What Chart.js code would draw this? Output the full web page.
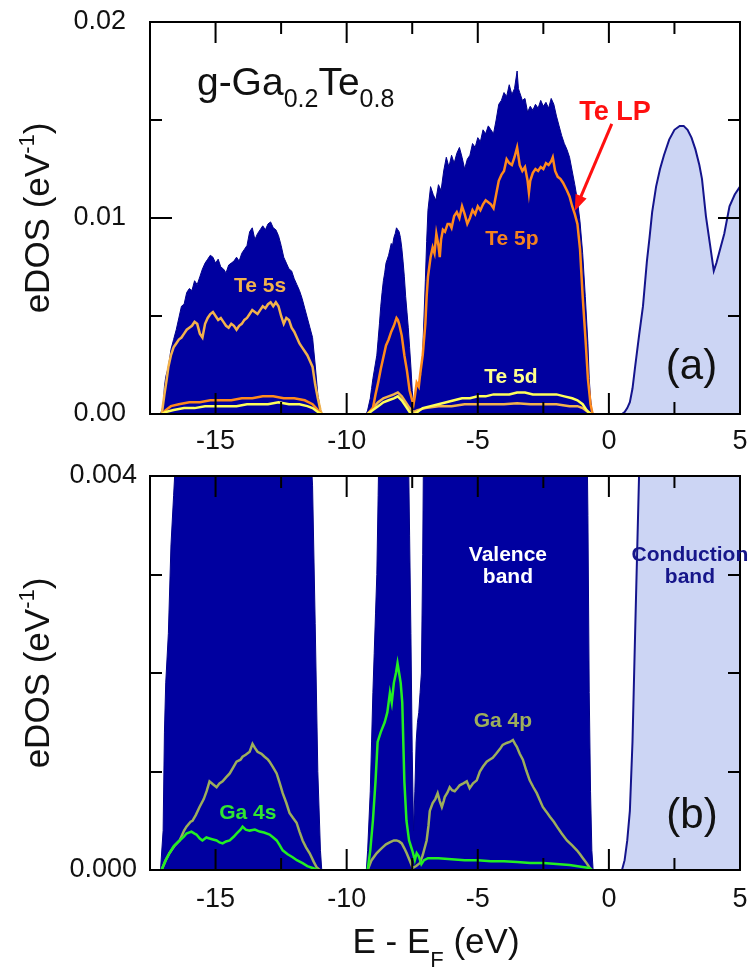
<!DOCTYPE html>
<html>
<head>
<meta charset="utf-8">
<title>g-Ga0.2Te0.8 eDOS</title>
<script src="https://cdn.jsdelivr.net/npm/chart.js@4.4.1/dist/chart.umd.min.js"></script>
<style>
  html, body { margin: 0; padding: 0; background: #fff; }
  #wrap { position: relative; width: 752px; height: 972px; overflow: hidden; }
  #wrap canvas { position: absolute; left: 0; }
  #DosTop { top: 0; }
  #DosBottom { top: 440px; }
</style>
</head>
<body>
<div id="wrap">
  <canvas id="DosTop" width="752" height="470"></canvas>
  <canvas id="DosBottom" width="752" height="532"></canvas>
</div>
<script>
// ---------------------------------------------------------------
//  Data (energy in eV relative to E_F, eDOS in 1/eV)
//  null marks a gap between bands
// ---------------------------------------------------------------

// total DOS, valence side
const totalE = [
  -17.10, -17.00, -16.95, -16.90, -16.80, -16.70, -16.60, -16.50, -16.40, -16.30,
  -16.20, -16.10, -16.00, -15.90, -15.80, -15.70, -15.60, -15.50, -15.40, -15.30,
  -15.20, -15.10, -15.00, -14.90, -14.80, -14.70, -14.60, -14.50, -14.40, -14.30,
  -14.20, -14.10, -14.00, -13.90, -13.80, -13.70, -13.60, -13.50, -13.40, -13.30,
  -13.20, -13.10, -13.00, -12.90, -12.80, -12.70, -12.60, -12.50, -12.40, -12.30,
  -12.20, -12.10, -12.00, -11.90, -11.80, -11.70, -11.60, -11.50, -11.40, -11.30,
  -11.20, -11.10, -11.00, -10.95,
  -10.00,
  -9.25, -9.20, -9.10, -9.05, -9.00, -8.95, -8.90, -8.85, -8.80, -8.75,
  -8.70, -8.65, -8.60, -8.55, -8.50, -8.45, -8.40, -8.35, -8.30, -8.25,
  -8.20, -8.15, -8.10, -8.05, -8.00, -7.95, -7.90, -7.85, -7.80, -7.75,
  -7.70, -7.65, -7.60, -7.55, -7.50, -7.45, -7.40, -7.35, -7.30, -7.25,
  -7.20, -7.15, -7.10, -7.05, -7.00, -6.95, -6.90, -6.80, -6.70, -6.60,
  -6.50, -6.40, -6.30, -6.20, -6.10, -6.00, -5.90, -5.80, -5.70, -5.60,
  -5.50, -5.40, -5.30, -5.20, -5.10, -5.00, -4.90, -4.80, -4.70, -4.60,
  -4.50, -4.40, -4.30, -4.20, -4.10, -4.00, -3.90, -3.80, -3.70, -3.60,
  -3.50, -3.45, -3.40, -3.30, -3.20, -3.10, -3.00, -2.90, -2.80, -2.70,
  -2.60, -2.50, -2.40, -2.30, -2.20, -2.10, -2.00, -1.90, -1.80, -1.70,
  -1.60, -1.50, -1.40, -1.30, -1.20, -1.10, -1.00, -0.90, -0.80, -0.75,
  -0.70, -0.65, -0.60
];
const totalD = [
  0, 0.0004, 0.0014, 0.0019, 0.0024, 0.0033, 0.0038, 0.0043, 0.0049, 0.0055,
  0.0056, 0.0062, 0.0064, 0.0063, 0.0068, 0.0066, 0.0070, 0.0074, 0.0077, 0.0079,
  0.0081, 0.0080, 0.0077, 0.0079, 0.0075, 0.0074, 0.0072, 0.0076, 0.0077, 0.0078,
  0.0080, 0.0078, 0.0082, 0.0084, 0.0086, 0.0093, 0.0095, 0.0089, 0.0092, 0.0094,
  0.0096, 0.0094, 0.0097, 0.0098, 0.0095, 0.0094, 0.0091, 0.0086, 0.0080, 0.0077,
  0.0074, 0.0073, 0.0069, 0.0066, 0.0063, 0.0059, 0.0054, 0.0049, 0.0044, 0.0039,
  0.0025, 0.0010, 0.0002, 0,
  null,
  0, 0.0002, 0.0008, 0.0013, 0.0018, 0.0022, 0.0026, 0.0030, 0.0038, 0.0046,
  0.0055, 0.0062, 0.0068, 0.0072, 0.0077, 0.0079, 0.0081, 0.0084, 0.0087, 0.0086,
  0.0090, 0.0092, 0.0095, 0.0094, 0.0093, 0.0090, 0.0085, 0.0078, 0.0070, 0.0060,
  0.0052, 0.0044, 0.0034, 0.0024, 0.0012, 0.0004, 0.0008, 0.0013, 0.0015, 0.0016,
  0.0018, 0.0020, 0.0032, 0.0050, 0.0068, 0.0088, 0.0104, 0.0116, 0.0112, 0.0109,
  0.0117, 0.0114, 0.0124, 0.0131, 0.0126, 0.0132, 0.0128, 0.0133, 0.0136, 0.0131,
  0.0125, 0.0130, 0.0132, 0.0138, 0.0136, 0.0141, 0.0139, 0.0145, 0.0143, 0.0147,
  0.0145, 0.0143, 0.0150, 0.0158, 0.0160, 0.0164, 0.0162, 0.0168, 0.0163, 0.0166,
  0.0175, 0.0166, 0.0164, 0.0160, 0.0161, 0.0154, 0.0157, 0.0155, 0.0158, 0.0156,
  0.0160, 0.0157, 0.0159, 0.0156, 0.0161, 0.0158, 0.0152, 0.0147, 0.0142, 0.0138,
  0.0135, 0.0131, 0.0124, 0.0117, 0.0109, 0.0098, 0.0082, 0.0060, 0.0036, 0.0018,
  0.0008, 0.0002, 0
];

// conduction band
const cbE = [
  0.50, 0.60, 0.70, 0.80, 0.90, 1.00, 1.15, 1.30, 1.45, 1.55,
  1.65, 1.80, 1.95, 2.10, 2.30, 2.50, 2.70, 2.85, 3.00, 3.15,
  3.30, 3.45, 3.55, 3.70, 3.85, 4.00, 4.10, 4.20, 4.40, 4.60,
  4.80, 5.00
];
const cbD = [
  0, 0.0001, 0.0003, 0.0006, 0.0013, 0.0024, 0.0040, 0.0055, 0.0078, 0.0090,
  0.0103, 0.0116, 0.0125, 0.0132, 0.0140, 0.0145, 0.0147, 0.0147, 0.0145, 0.0141,
  0.0135, 0.0127, 0.0120, 0.0101, 0.0087, 0.0073, 0.0077, 0.0082, 0.0092, 0.0106,
  0.0112, 0.0116
];

// Te 5s
const te5sE = [
  -17.05, -16.95, -16.87, -16.80, -16.70, -16.60, -16.50, -16.40, -16.30, -16.20,
  -16.10, -16.00, -15.90, -15.80, -15.70, -15.60, -15.50, -15.40, -15.30, -15.20,
  -15.10, -15.00, -14.90, -14.80, -14.70, -14.60, -14.50, -14.40, -14.30, -14.20,
  -14.10, -14.00, -13.90, -13.80, -13.70, -13.60, -13.50, -13.40, -13.30, -13.20,
  -13.10, -13.00, -12.90, -12.80, -12.70, -12.60, -12.50, -12.40, -12.30, -12.20,
  -12.10, -12.00, -11.90, -11.80, -11.70, -11.60, -11.50, -11.40, -11.30, -11.20,
  -11.10, -11.00, -10.95, -10.00,
  -9.20, -9.00, -8.80, -8.60, -8.40, -8.20, -8.05, -7.90, -7.75, -7.60,
  -7.45, -7.30, -7.00, -6.50, -6.00, -5.50, -5.00, -4.50, -4.00, -3.50,
  -3.00, -2.50, -2.00, -1.50, -1.20, -1.00, -0.80, -0.65
];
const te5sD = [
  0, 0.0010, 0.0017, 0.0024, 0.0030, 0.0034, 0.0036, 0.0038, 0.0039, 0.0041,
  0.0043, 0.0044, 0.0045, 0.0047, 0.0046, 0.0041, 0.0039, 0.0046, 0.0049, 0.0051,
  0.0052, 0.0050, 0.0048, 0.0049, 0.0047, 0.0045, 0.0044, 0.0046, 0.0045, 0.0043,
  0.0045, 0.0046, 0.0048, 0.0049, 0.0051, 0.0053, 0.0052, 0.0051, 0.0053, 0.0055,
  0.0054, 0.0056, 0.0057, 0.0055, 0.0057, 0.0055, 0.0050, 0.0046, 0.0049, 0.0048,
  0.0044, 0.0042, 0.0039, 0.0036, 0.0034, 0.0032, 0.0030, 0.0027, 0.0024, 0.0015,
  0.0008, 0.0002, 0, null,
  0, 0.0003, 0.0006, 0.0008, 0.0009, 0.0010, 0.0011, 0.0009, 0.0006, 0.0003,
  0.0001, 0.0002, 0.0003, 0.0004, 0.0004, 0.0005, 0.0005, 0.0005, 0.0005, 0.00055,
  0.0005, 0.0005, 0.0005, 0.0004, 0.0004, 0.0003, 0.0001, 0
];

// Te 5p
const te5pE = [
  -17.05, -16.90, -16.70, -16.40, -16.00, -15.60, -15.20, -14.80, -14.40, -14.00,
  -13.60, -13.20, -12.80, -12.40, -12.00, -11.60, -11.30, -11.10, -10.95, -10.00,
  -9.20, -9.00, -8.90, -8.80, -8.70, -8.60, -8.50, -8.40, -8.30, -8.20,
  -8.10, -8.05, -8.00, -7.90, -7.80, -7.70, -7.60, -7.50, -7.45, -7.40,
  -7.33, -7.25, -7.20, -7.10, -7.00, -6.95, -6.90, -6.80, -6.72, -6.65,
  -6.58, -6.50, -6.45, -6.40, -6.33, -6.25, -6.15, -6.07, -6.00, -5.90,
  -5.80, -5.70, -5.60, -5.50, -5.40, -5.30, -5.20, -5.10, -5.00, -4.90,
  -4.80, -4.70, -4.60, -4.50, -4.40, -4.30, -4.20, -4.10, -4.00, -3.90,
  -3.80, -3.70, -3.60, -3.50, -3.40, -3.30, -3.20, -3.10, -3.05, -3.00,
  -2.90, -2.80, -2.70, -2.60, -2.50, -2.40, -2.30, -2.20, -2.14, -2.05,
  -1.95, -1.85, -1.75, -1.60, -1.50, -1.40, -1.30, -1.20, -1.10, -1.00,
  -0.90, -0.80, -0.70, -0.62
];
const te5pD = [
  0, 0.0002, 0.0004, 0.0005, 0.0006, 0.0006, 0.0007, 0.0007, 0.0007, 0.0008,
  0.0008, 0.0009, 0.0009, 0.0008, 0.0008, 0.0007, 0.0005, 0.0002, 0, null,
  0, 0.0003, 0.0010, 0.0016, 0.0023, 0.0029, 0.0035, 0.0038, 0.0042, 0.0045,
  0.0049, 0.0048, 0.0046, 0.0040, 0.0030, 0.0022, 0.0012, 0.0007, 0.0005, 0.0009,
  0.0016, 0.0014, 0.0020, 0.0030, 0.0046, 0.0060, 0.0070, 0.0080, 0.0085, 0.0082,
  0.0092, 0.0086, 0.0080, 0.0089, 0.0094, 0.0093, 0.0097, 0.0097, 0.0095, 0.0101,
  0.0103, 0.0100, 0.0106, 0.0102, 0.0097, 0.0100, 0.0104, 0.0102, 0.0106, 0.0104,
  0.0107, 0.0109, 0.0108, 0.0107, 0.0105, 0.0112, 0.0119, 0.0122, 0.0124, 0.0130,
  0.0128, 0.0127, 0.0131, 0.0136, 0.0127, 0.0124, 0.0126, 0.0119, 0.0113, 0.0119,
  0.0123, 0.0125, 0.0124, 0.0126, 0.0125, 0.0128, 0.0127, 0.0129, 0.0131, 0.0124,
  0.0121, 0.0120, 0.0118, 0.0114, 0.0111, 0.0106, 0.0102, 0.0097, 0.0084, 0.0060,
  0.0040, 0.0018, 0.0005, 0
];

// Te 5d
const te5dE = [
  -17.05, -16.90, -16.60, -16.20, -15.80, -15.40, -15.00, -14.60, -14.20, -13.80,
  -13.40, -13.00, -12.60, -12.20, -11.80, -11.50, -11.30, -11.10, -10.95, -10.00,
  -9.20, -9.00, -8.80, -8.60, -8.40, -8.20, -8.05, -7.90, -7.75, -7.60,
  -7.45, -7.30, -7.10, -6.80, -6.50, -6.20, -5.90, -5.60, -5.30, -5.00,
  -4.70, -4.40, -4.10, -3.80, -3.50, -3.20, -2.90, -2.60, -2.30, -2.00,
  -1.70, -1.40, -1.20, -1.00, -0.85, -0.70
];
const te5dD = [
  0, 0.0001, 0.0002, 0.0003, 0.0003, 0.0004, 0.0004, 0.0004, 0.0004, 0.0005,
  0.0005, 0.0005, 0.0006, 0.0005, 0.0005, 0.0004, 0.0003, 0.0001, 0, null,
  0, 0.0002, 0.0004, 0.0006, 0.0007, 0.0008, 0.0009, 0.0007, 0.0004, 0.0001,
  0, 0.0001, 0.0003, 0.0004, 0.0005, 0.0006, 0.0007, 0.0008, 0.0008, 0.0009,
  0.0009, 0.0010, 0.0010, 0.0010, 0.0011, 0.0011, 0.0010, 0.0010, 0.0010, 0.0010,
  0.0009, 0.0008, 0.0007, 0.0005, 0.0002, 0
];

// Ga 4s
const ga4sE = [
  -17.06, -16.90, -16.76, -16.60, -16.37, -16.20, -16.11, -15.92, -15.80, -15.73,
  -15.60, -15.50, -15.35, -15.23, -15.10, -14.96, -14.85, -14.73, -14.60, -14.46,
  -14.30, -14.20, -14.05, -13.97, -13.85, -13.70, -13.50, -13.32, -13.15, -12.94,
  -12.80, -12.67, -12.55, -12.44, -12.25, -12.06, -11.90, -11.68, -11.50, -11.30,
  -11.10, -10.00,
  -9.20, -9.10, -9.00, -8.90, -8.82, -8.70, -8.55, -8.45, -8.35, -8.28,
  -8.20, -8.12, -8.06, -8.00, -7.94, -7.88, -7.84, -7.80, -7.72, -7.62,
  -7.50, -7.40, -7.33, -7.25, -7.15, -7.05, -6.90, -6.50, -6.00, -5.50,
  -5.00, -4.50, -4.00, -3.50, -3.00, -2.50, -2.00, -1.50, -1.00, -0.75,
  -0.65
];
const ga4sD = [
  0, 0.00010, 0.00017, 0.00024, 0.00030, 0.00034, 0.00037, 0.00039, 0.00037, 0.00036,
  0.00032, 0.00030, 0.00033, 0.00032, 0.00031, 0.00030, 0.00028, 0.00027, 0.00029, 0.00030,
  0.00034, 0.00037, 0.00041, 0.00044, 0.00041, 0.00040, 0.00041, 0.00039, 0.00038, 0.00036,
  0.00033, 0.00030, 0.00025, 0.00020, 0.00016, 0.00013, 0.00010, 0.00007, 0.00004, 0.00002,
  0, null,
  0, 0.0002, 0.0005, 0.0009, 0.0013, 0.0014, 0.0015, 0.0016, 0.0018, 0.0017,
  0.0019, 0.0020, 0.0021, 0.0020, 0.0019, 0.0017, 0.0013, 0.0009, 0.0005, 0.0003,
  0.0002, 0.0001, 0.00017, 0.00014, 0.00006, 0.00010, 0.00012, 0.00012, 0.00011, 0.00010,
  0.00010, 0.00009, 0.00009, 0.00008, 0.00007, 0.00007, 0.00006, 0.00005, 0.00003, 0.00002,
  0
];

// Ga 4p
const ga4pE = [
  -17.06, -16.90, -16.76, -16.55, -16.37, -16.20, -16.11, -15.95, -15.88, -15.75,
  -15.61, -15.45, -15.34, -15.23, -15.10, -14.96, -14.85, -14.73, -14.60, -14.46,
  -14.33, -14.20, -14.05, -13.97, -13.85, -13.70, -13.59, -13.50, -13.40, -13.25,
  -13.13, -13.00, -12.94, -12.80, -12.67, -12.55, -12.44, -12.30, -12.18, -12.05,
  -11.91, -11.80, -11.68, -11.55, -11.41, -11.25, -11.15, -11.03, -10.00,
  -9.20, -9.05, -8.86, -8.75, -8.63, -8.50, -8.36, -8.20, -8.10, -8.00,
  -7.90, -7.80, -7.71, -7.60, -7.48, -7.35, -7.21, -7.10, -6.95, -6.88,
  -6.83, -6.72, -6.62, -6.53, -6.45, -6.37, -6.30, -6.26, -6.15, -6.07,
  -5.98, -5.88, -5.78, -5.69, -5.55, -5.42, -5.31, -5.18, -5.04, -4.92,
  -4.80, -4.66, -4.55, -4.43, -4.30, -4.24, -4.15, -4.05, -3.90, -3.78,
  -3.66, -3.58, -3.51, -3.40, -3.28, -3.15, -3.02, -2.88, -2.75, -2.62,
  -2.52, -2.38, -2.25, -2.10, -1.98, -1.80, -1.60, -1.40, -1.22, -1.10,
  -0.99, -0.85, -0.73, -0.65
];
const ga4pD = [
  0, 0.00010, 0.00017, 0.00025, 0.00030, 0.00040, 0.00044, 0.00049, 0.00050, 0.00056,
  0.00064, 0.00072, 0.00080, 0.00090, 0.00087, 0.00084, 0.00088, 0.00090, 0.00094, 0.00098,
  0.00104, 0.00110, 0.00112, 0.00115, 0.00117, 0.00120, 0.00128, 0.00124, 0.00120, 0.00118,
  0.00115, 0.00112, 0.00110, 0.00104, 0.00098, 0.00088, 0.00078, 0.00068, 0.00058, 0.00053,
  0.00048, 0.00039, 0.00030, 0.00023, 0.00017, 0.00008, 0.00003, 0, null,
  0, 0.00010, 0.00017, 0.00020, 0.00023, 0.00026, 0.00028, 0.00030, 0.00030, 0.00029,
  0.00027, 0.00022, 0.00017, 0.00010, 0.00002, 0.00004, 0.00007, 0.00015, 0.00030, 0.00045,
  0.00060, 0.00068, 0.00072, 0.00078, 0.00070, 0.00064, 0.00070, 0.00074, 0.00079, 0.00084,
  0.00081, 0.00080, 0.00083, 0.00086, 0.00088, 0.00090, 0.00083, 0.00088, 0.00091, 0.00100,
  0.00105, 0.00110, 0.00112, 0.00114, 0.00118, 0.00120, 0.00123, 0.00127, 0.00129, 0.00130,
  0.00132, 0.00128, 0.00125, 0.00118, 0.00112, 0.00101, 0.00091, 0.00084, 0.00078, 0.00070,
  0.00064, 0.00059, 0.00054, 0.00049, 0.00044, 0.00037, 0.00030, 0.00025, 0.00020, 0.00016,
  0.00012, 0.00007, 0.00002, 0
];

// axis ranges, tick labels and tick marks
const xRange = [-17.5, 5];
const xLabels = [-15, -10, -5, 0, 5];
const xMajor = [-15, -10, -5, 0];
const xMinor = [-12.5, -7.5, -2.5, 2.5];
const yTopRange = [0, 0.02];
const yTopLabels = [0, 0.01, 0.02];
const yTopMajor = [0.01];
const yTopMinor = [0.005, 0.015];
const yBotRange = [0, 0.004];
const yBotLabels = [0, 0.004];
const yBotMinor = [0.001, 0.002, 0.003];

(function () {
  "use strict";

  const FONT = '"Liberation Sans", Arial, Helvetica, sans-serif';

  // Colors
  const c_navy      = '#0000A0';
  const c_navy_line = '#00008C';
  const c_cb_fill   = '#CCD5F4';
  const c_cb_line   = '#14148C';
  const c_te5s      = '#F2B24C';
  const c_te5p      = '#FF8A1C';
  const c_te5d      = '#FFFF5A';
  const c_ga4s      = '#22EE22';
  const c_ga4p      = '#9DAE5C';
  const c_red       = '#FF1010';

  Chart.defaults.font.family = FONT;
  Chart.defaults.color = '#111';

  function pts(E, D) {
    return E.map(function (e, i) { return { x: e, y: D[i] }; });
  }

  function lineSet(label, E, D, color) {
    return {
      label: label, data: pts(E, D), borderColor: color, borderWidth: 2.5,
      showLine: true, pointRadius: 0, tension: 0, spanGaps: false, fill: false, order: 0
    };
  }

  function fillSet(label, E, D, fillColor, lineColor, width) {
    return {
      label: label, data: pts(E, D), borderColor: lineColor, backgroundColor: fillColor,
      borderWidth: width, showLine: true, pointRadius: 0, tension: 0, spanGaps: false,
      fill: 'origin', order: 5
    };
  }

  // inward x tick marks as short vertical segments at bottom and top of the frame
  function xTickSet(yMax, majorLen, minorLen) {
    const segs = [];
    xMajor.concat(xMinor).forEach(function (v) {
      const len = xMajor.indexOf(v) >= 0 ? majorLen : minorLen;
      segs.push({ x: v, y: 0 }, { x: v, y: len }, { x: v, y: null });
      segs.push({ x: v, y: yMax }, { x: v, y: yMax - len }, { x: v, y: null });
    });
    return {
      label: 'x ticks', data: segs, borderColor: '#000', borderWidth: 2,
      showLine: true, pointRadius: 0, tension: 0, spanGaps: false, fill: false, order: -1
    };
  }

  // draw a row of text pieces (sub/superscripts)
  function drawRuns(ctx, runs, x, y, align) {
    let w = 0;
    runs.forEach(function (r) { ctx.font = r.font; w += ctx.measureText(r.text).width; });
    let cx = align === 'center' ? x - w / 2 : x;
    ctx.textAlign = 'left';
    ctx.textBaseline = 'alphabetic';
    runs.forEach(function (r) {
      ctx.font = r.font;
      ctx.fillText(r.text, cx, y + (r.dy || 0));
      cx += ctx.measureText(r.text).width;
    });
  }

  function yTitle(ctx, cy) {
    ctx.save();
    ctx.fillStyle = '#111';
    ctx.translate(49, cy);
    ctx.rotate(-Math.PI / 2);
    drawRuns(ctx, [
      { text: 'eDOS (eV', font: '35px ' + FONT },
      { text: '-1', font: '22px ' + FONT, dy: -15 },
      { text: ')', font: '35px ' + FONT }
    ], 0, 0, 'center');
    ctx.restore();
  }

  // frame, y ticks, notes and extra drawing, all after the chart
  function decor(yMajor, yMinor, list, extra) {
    return {
      id: 'decor',
      afterDraw: function (chart) {
        const ctx = chart.ctx;
        const area = chart.chartArea;
        const sx = chart.scales.x;
        const sy = chart.scales.y;
        const w = area.right - area.left;
        const h = area.bottom - area.top;

        ctx.save();
        ctx.strokeStyle = '#000';
        ctx.lineWidth = 2;
        ctx.beginPath();
        yMajor.concat(yMinor).forEach(function (v) {
          const len = yMajor.indexOf(v) >= 0 ? 22 : 12;
          const py = Math.round(sy.getPixelForValue(v));
          ctx.moveTo(area.left, py);
          ctx.lineTo(area.left + len, py);
          ctx.moveTo(area.right, py);
          ctx.lineTo(area.right - len, py);
        });
        ctx.stroke();
        ctx.strokeRect(area.left, area.top, w, h);

        ctx.textBaseline = 'alphabetic';
        list.forEach(function (n) {
          ctx.font = n.font;
          ctx.fillStyle = n.color;
          ctx.textAlign = n.align || 'center';
          ctx.fillText(n.text, sx.getPixelForValue(n.x), sy.getPixelForValue(n.y));
        });
        ctx.restore();
        if (extra) extra(chart);
      }
    };
  }

  function hasLabel(list, v) {
    return list.some(function (l) { return Math.abs(l - v) < 1e-9; });
  }

  function xScale(pad, height) {
    return {
      type: 'linear', min: xRange[0], max: xRange[1],
      grid: { display: false, drawTicks: false },
      border: { display: false },
      ticks: {
        stepSize: 2.5, autoSkip: false, maxRotation: 0, padding: pad,
        font: { size: 27 },
        callback: function (v) { return hasLabel(xLabels, v) ? String(Math.round(v)) : ''; }
      },
      afterFit: function (s) { s.height = height; s.paddingLeft = 0; s.paddingRight = 0; }
    };
  }

  function yScale(range, step, labels, digits, pad) {
    return {
      type: 'linear', min: range[0], max: range[1],
      grid: { display: false, drawTicks: false },
      border: { display: false },
      ticks: {
        stepSize: step, padding: pad, font: { size: 27 }, autoSkip: false,
        callback: function (v) { return hasLabel(labels, v) ? Number(v).toFixed(digits) : ''; }
      },
      afterFit: function (s) { s.width = 150; s.paddingTop = 0; s.paddingBottom = 0; }
    };
  }

  const baseOptions = {
    responsive: false,
    animation: false,
    events: [],
    plugins: { legend: { display: false }, tooltip: { enabled: false } }
  };

  const bold21 = 'bold 21px ' + FONT;

  // TOP PANEL (a)
  const dos_top = document.getElementById('DosTop');
  if (dos_top != null) {
    new Chart(dos_top.getContext('2d'), {
      type: 'scatter',
      data: {
        datasets: [
          xTickSet(yTopRange[1], 0.00107, 0.00061),
          lineSet('Te 5d', te5dE, te5dD, c_te5d),
          lineSet('Te 5p', te5pE, te5pD, c_te5p),
          lineSet('Te 5s', te5sE, te5sD, c_te5s),
          fillSet('Total', totalE, totalD, c_navy, c_navy_line, 1),
          fillSet('Conduction', cbE, cbD, c_cb_fill, c_cb_line, 2)
        ]
      },
      options: Object.assign({}, baseOptions, {
        layout: { padding: { top: 22, right: 12, left: 0, bottom: 0 } },
        scales: {
          x: xScale(11, 56),
          y: yScale(yTopRange, 0.005, yTopLabels, 2, 24)
        }
      }),
      plugins: [
        decor(yTopMajor, yTopMinor, [
          { text: 'Te 5s', x: -13.3, y: 0.0062, color: c_te5s, font: bold21 },
          { text: 'Te 5p', x: -3.70, y: 0.0086, color: '#F5821E', font: bold21 },
          { text: 'Te 5d', x: -3.74, y: 0.0016, color: '#FFFF8C', font: bold21 },
          { text: 'Te LP', x: 0.23, y: 0.0150, color: c_red, font: 'bold 27px ' + FONT },
          { text: '(a)', x: 3.15, y: 0.0018, color: '#111', font: '42px ' + FONT }
        ], function (chart) {
          const ctx = chart.ctx, sx = chart.scales.x, sy = chart.scales.y;
          // arrow to the lone-pair band edge
          const x0 = sx.getPixelForValue(0.11), y0 = sy.getPixelForValue(0.0148);
          const x1 = sx.getPixelForValue(-1.30), y1 = sy.getPixelForValue(0.01036);
          const ang = Math.atan2(y1 - y0, x1 - x0);
          ctx.save();
          ctx.strokeStyle = c_red;
          ctx.fillStyle = c_red;
          ctx.lineWidth = 3;
          ctx.beginPath();
          ctx.moveTo(x0, y0);
          ctx.lineTo(x1 - 12 * Math.cos(ang), y1 - 12 * Math.sin(ang));
          ctx.stroke();
          ctx.beginPath();
          ctx.moveTo(x1, y1);
          ctx.lineTo(x1 - 16 * Math.cos(ang) + 6 * Math.sin(ang), y1 - 16 * Math.sin(ang) - 6 * Math.cos(ang));
          ctx.lineTo(x1 - 16 * Math.cos(ang) - 6 * Math.sin(ang), y1 - 16 * Math.sin(ang) + 6 * Math.cos(ang));
          ctx.closePath();
          ctx.fill();
          // composition label
          ctx.fillStyle = '#111';
          drawRuns(ctx, [
            { text: 'g-Ga', font: '39px ' + FONT },
            { text: '0.2', font: '25px ' + FONT, dy: 12 },
            { text: 'Te', font: '39px ' + FONT },
            { text: '0.8', font: '25px ' + FONT, dy: 12 }
          ], sx.getPixelForValue(-15.71), sy.getPixelForValue(0.01628), 'left');
          ctx.restore();
          yTitle(ctx, (chart.chartArea.top + chart.chartArea.bottom) / 2);
        })
      ]
    });
  }

  // BOTTOM PANEL (b)
  const dos_bottom = document.getElementById('DosBottom');
  if (dos_bottom != null) {
    new Chart(dos_bottom.getContext('2d'), {
      type: 'scatter',
      data: {
        datasets: [
          xTickSet(yBotRange[1], 0.000213, 0.000122),
          lineSet('Ga 4s', ga4sE, ga4sD, c_ga4s),
          lineSet('Ga 4p', ga4pE, ga4pD, c_ga4p),
          fillSet('Total', totalE, totalD, c_navy, c_navy_line, 1),
          fillSet('Conduction', cbE, cbD, c_cb_fill, c_cb_line, 2)
        ]
      },
      options: Object.assign({}, baseOptions, {
        layout: { padding: { top: 36, right: 12, left: 0, bottom: 0 } },
        scales: {
          x: xScale(13, 102),
          y: yScale(yBotRange, 0.001, yBotLabels, 3, 13)
        }
      }),
      plugins: [
        decor([], yBotMinor, [
          { text: 'Valence', x: -3.85, y: 0.00314, color: '#FFFFFF', font: bold21 },
          { text: 'band', x: -3.85, y: 0.00291, color: '#FFFFFF', font: bold21 },
          { text: 'Conduction', x: 3.09, y: 0.00314, color: '#16168A', font: bold21 },
          { text: 'band', x: 3.09, y: 0.00291, color: '#16168A', font: bold21 },
          { text: 'Ga 4p', x: -4.04, y: 0.00145, color: c_ga4p, font: bold21 },
          { text: 'Ga 4s', x: -13.77, y: 0.00052, color: '#30E630', font: bold21 },
          { text: '(b)', x: 3.17, y: 0.00043, color: '#111', font: '42px ' + FONT }
        ], function (chart) {
          const ctx = chart.ctx;
          yTitle(ctx, (chart.chartArea.top + chart.chartArea.bottom) / 2);
          ctx.save();
          ctx.fillStyle = '#111';
          drawRuns(ctx, [
            { text: 'E - E', font: '35px ' + FONT },
            { text: 'F', font: '22px ' + FONT, dy: 14 },
            { text: ' (eV)', font: '35px ' + FONT }
          ], 436, 513, 'center');
          ctx.restore();
        })
      ]
    });
  }

})();
</script>
</body>
</html>
